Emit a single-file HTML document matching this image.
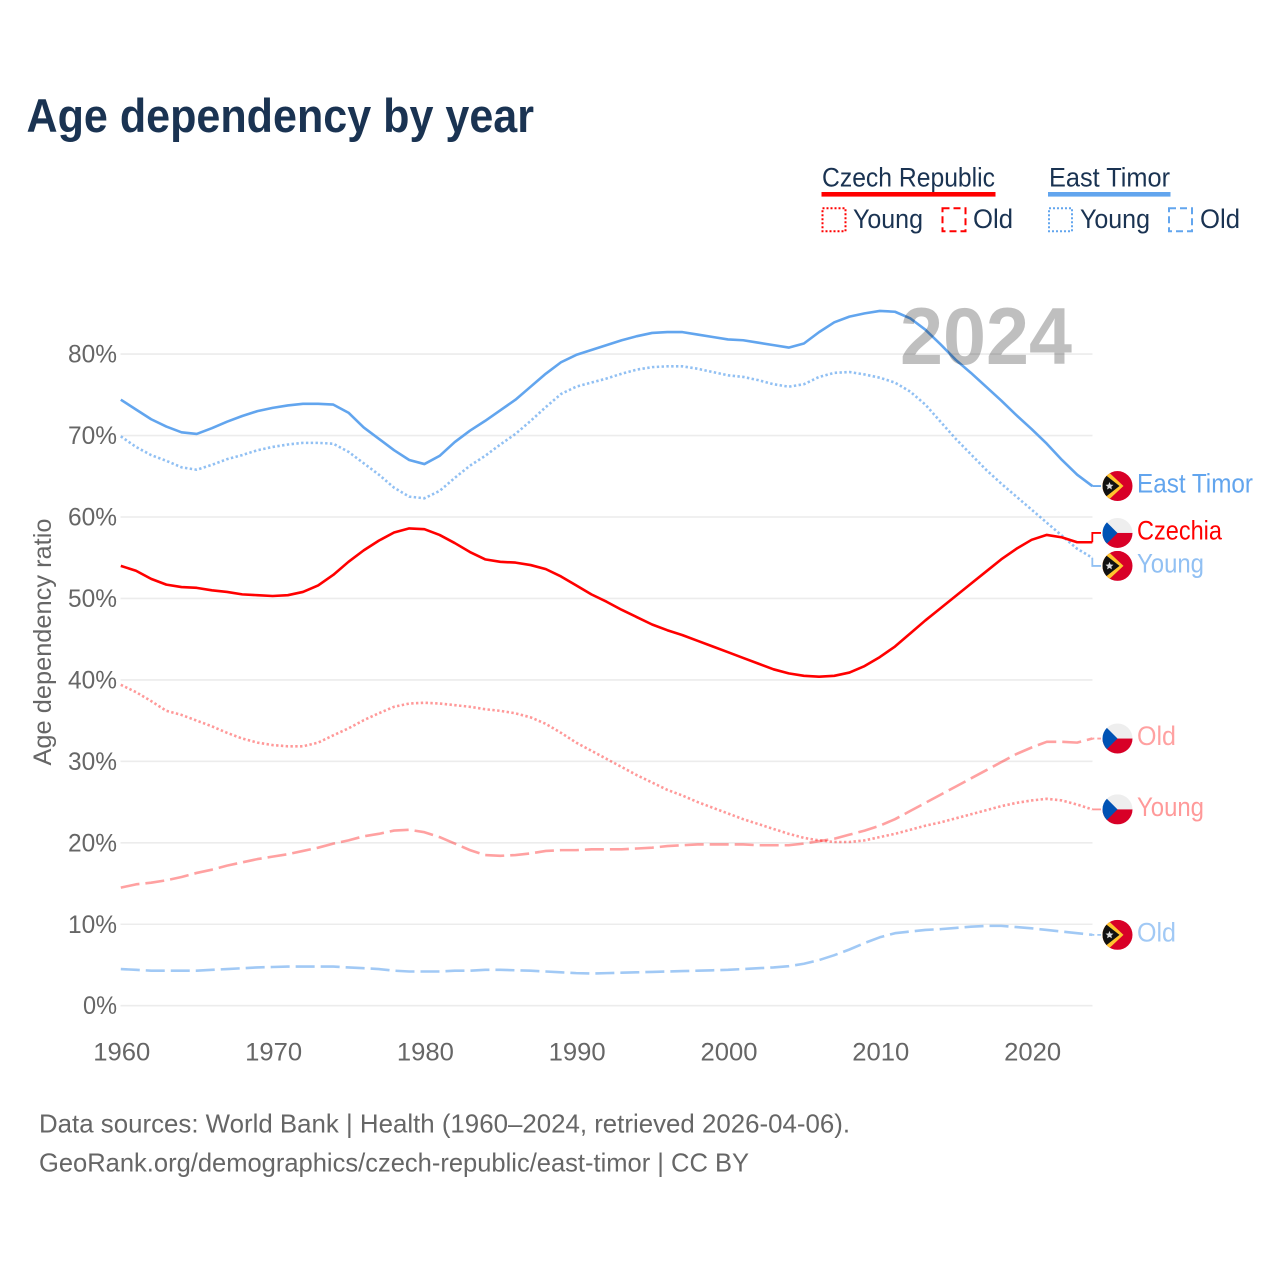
<!DOCTYPE html>
<html lang="en">
<head>
<meta charset="utf-8">
<title>Age dependency by year</title>
<style>
html,body{margin:0;padding:0;background:#fff;}
svg{display:block;font-family:"Liberation Sans",sans-serif;}
</style>
</head>
<body>
<svg id="chart" xmlns="http://www.w3.org/2000/svg" width="1280" height="1280" viewBox="0 0 1280 1280">
  <defs>
    <clipPath id="flag-clip"><circle cx="0" cy="0" r="15"/></clipPath>
    <g id="flag-cz" clip-path="url(#flag-clip)">
      <rect x="-15" y="-15" width="30" height="30" fill="#eeeeee"/>
      <rect x="-15" y="0" width="30" height="15" fill="#d80027"/>
      <polygon points="-15,-15 0,0 -15,15" fill="#0052b4"/>
    </g>
    <g id="flag-tl" clip-path="url(#flag-clip)">
      <rect x="-15" y="-15" width="30" height="30" fill="#d80027"/>
      <polygon points="-15,-17 -9,-14 6,0 -9,14 -15,17" fill="#ffc42e"/>
      <polygon points="-15,-15 -12,-11 2,0 -12,11 -15,15" fill="#111111"/>
      <polygon points="-8,-4 -6.9,-1.4 -4,-1.2 -6.2,0.7 -5.6,3.4 -8,2 -10.4,3.4 -9.8,0.7 -12,-1.2 -9.1,-1.4" fill="#dddddd"/>
    </g>
  </defs>

  <rect x="0" y="0" width="1280" height="1280" fill="#ffffff"/>

  <text x="26.5" y="132" font-size="47" font-weight="700" fill="#1a3352" textLength="507.5" lengthAdjust="spacingAndGlyphs">Age dependency by year</text>

  <g fill="#1a3352" font-size="26.5">
    <text x="822" y="186.5" textLength="173" lengthAdjust="spacingAndGlyphs">Czech Republic</text>
    <rect x="821.5" y="192" width="174" height="4.6" fill="#ff0000"/>
    <rect x="822.5" y="208.3" width="23" height="23" fill="none" stroke="#ff0000" stroke-width="2" stroke-dasharray="2 2"/>
    <text x="853" y="228.2" textLength="70" lengthAdjust="spacingAndGlyphs">Young</text>
    <rect x="942.5" y="208.3" width="23" height="23" fill="none" stroke="#ff0000" stroke-width="2" stroke-dasharray="7 4"/>
    <text x="973" y="228.2" textLength="40" lengthAdjust="spacingAndGlyphs">Old</text>

    <text x="1049" y="186.5" textLength="121" lengthAdjust="spacingAndGlyphs">East Timor</text>
    <rect x="1048" y="192" width="122.5" height="4.6" fill="#62a5ee"/>
    <rect x="1049" y="208.3" width="23" height="23" fill="none" stroke="#62a5ee" stroke-width="2" stroke-dasharray="2 2"/>
    <text x="1080" y="228.2" textLength="70" lengthAdjust="spacingAndGlyphs">Young</text>
    <rect x="1169" y="208.3" width="23" height="23" fill="none" stroke="#62a5ee" stroke-width="2" stroke-dasharray="7 4"/>
    <text x="1200" y="228.2" textLength="40" lengthAdjust="spacingAndGlyphs">Old</text>
  </g>

  <text transform="translate(51,642) rotate(-90)" text-anchor="middle" font-size="25" fill="#666666" textLength="247" lengthAdjust="spacingAndGlyphs">Age dependency ratio</text>

  <g id="grid"></g>
  <g id="xaxis"></g>
  <g id="yaxis"></g>
  <g id="series"></g>
  <g id="endlabels"></g>

  <text x="900" y="364" font-size="81" font-weight="700" fill="#000000" fill-opacity="0.25" textLength="172" lengthAdjust="spacingAndGlyphs">2024</text>

  <g fill="#666666" font-size="26">
    <text x="39" y="1132.5" textLength="811" lengthAdjust="spacingAndGlyphs">Data sources: World Bank | Health (1960–2024, retrieved 2026-04-06).</text>
    <text x="39" y="1171.5" textLength="710" lengthAdjust="spacingAndGlyphs">GeoRank.org/demographics/czech-republic/east-timor | CC BY</text>
  </g>
</svg>

<script>
const years = [1960,1961,1962,1963,1964,1965,1966,1967,1968,1969,1970,1971,1972,1973,1974,1975,1976,1977,1978,1979,1980,1981,1982,1983,1984,1985,1986,1987,1988,1989,1990,1991,1992,1993,1994,1995,1996,1997,1998,1999,2000,2001,2002,2003,2004,2005,2006,2007,2008,2009,2010,2011,2012,2013,2014,2015,2016,2017,2018,2019,2020,2021,2022,2023,2024];
const xTicks = [1960,1970,1980,1990,2000,2010,2020];
const yTicks = [0,10,20,30,40,50,60,70,80];
const czechTotal = [54.0,53.4,52.4,51.7,51.4,51.3,51.0,50.8,50.5,50.4,50.3,50.4,50.8,51.6,52.9,54.5,55.9,57.1,58.1,58.6,58.5,57.8,56.8,55.7,54.8,54.5,54.4,54.1,53.6,52.7,51.6,50.5,49.6,48.6,47.7,46.8,46.1,45.5,44.8,44.1,43.4,42.7,42.0,41.3,40.8,40.5,40.4,40.5,40.9,41.7,42.8,44.1,45.7,47.3,48.8,50.3,51.8,53.3,54.8,56.1,57.2,57.8,57.5,56.9,56.9];
const timorTotal = [74.4,73.2,72.0,71.1,70.4,70.2,70.9,71.7,72.4,73.0,73.4,73.7,73.9,73.9,73.8,72.8,71.0,69.6,68.2,67.0,66.5,67.5,69.2,70.6,71.8,73.1,74.4,76.0,77.6,79.0,79.9,80.5,81.1,81.7,82.2,82.6,82.7,82.7,82.4,82.1,81.8,81.7,81.4,81.1,80.8,81.3,82.7,83.9,84.6,85.0,85.3,85.2,84.4,83.0,81.2,79.3,77.7,76.0,74.3,72.5,70.8,69.0,67.0,65.2,63.8];
const timorYoung = [69.9,68.6,67.6,66.9,66.1,65.8,66.4,67.1,67.6,68.2,68.6,68.9,69.1,69.1,69.0,68.0,66.6,65.2,63.6,62.5,62.3,63.2,64.8,66.3,67.5,68.9,70.2,71.8,73.5,75.1,76.0,76.5,77.0,77.6,78.1,78.4,78.5,78.5,78.2,77.8,77.4,77.2,76.8,76.3,76.0,76.3,77.2,77.7,77.8,77.5,77.1,76.5,75.4,73.8,71.7,69.6,67.7,65.8,64.1,62.5,60.9,59.3,57.7,56.1,55.0];
const timorOld = [4.5,4.4,4.3,4.3,4.3,4.3,4.4,4.5,4.6,4.7,4.75,4.8,4.8,4.8,4.8,4.7,4.6,4.5,4.3,4.2,4.2,4.2,4.3,4.3,4.4,4.4,4.35,4.3,4.2,4.1,4.0,3.95,4.0,4.05,4.1,4.15,4.2,4.25,4.3,4.35,4.4,4.5,4.6,4.7,4.85,5.15,5.6,6.2,6.9,7.7,8.4,8.9,9.1,9.3,9.4,9.55,9.7,9.8,9.8,9.65,9.5,9.3,9.1,8.9,8.7];
const czechYoung = [39.4,38.5,37.4,36.2,35.7,35.0,34.3,33.5,32.8,32.3,32.0,31.85,31.85,32.3,33.2,34.05,35.05,35.9,36.7,37.1,37.2,37.1,36.9,36.7,36.4,36.2,35.9,35.4,34.6,33.5,32.3,31.3,30.3,29.3,28.3,27.4,26.5,25.8,25.0,24.3,23.6,22.9,22.3,21.7,21.1,20.6,20.3,20.1,20.1,20.3,20.7,21.1,21.6,22.1,22.5,23.0,23.5,24.0,24.5,24.9,25.2,25.4,25.2,24.7,24.1];
const czechOld = [14.5,14.9,15.1,15.4,15.8,16.3,16.7,17.2,17.6,18.0,18.3,18.6,19.0,19.4,19.9,20.3,20.8,21.1,21.5,21.6,21.3,20.7,19.9,19.1,18.5,18.4,18.5,18.7,19.0,19.1,19.1,19.2,19.2,19.2,19.3,19.4,19.6,19.7,19.8,19.8,19.8,19.8,19.7,19.7,19.7,19.9,20.2,20.5,21.0,21.5,22.1,22.9,23.9,24.9,25.9,26.9,27.9,28.9,29.9,30.9,31.7,32.4,32.4,32.3,32.8];

const SVGNS = 'http://www.w3.org/2000/svg';
function xScale(year){ return 120.8 + (year - 1960) * 15.18; }
function yScale(value){ return 1005.7 - value * 8.145; }
function mk(tag, attrs, parent){
  const el = document.createElementNS(SVGNS, tag);
  for (const k in attrs) el.setAttribute(k, attrs[k]);
  parent.appendChild(el);
  return el;
}

const gridG = document.getElementById('grid');
const xG = document.getElementById('xaxis');
const yG = document.getElementById('yaxis');
const seriesG = document.getElementById('series');
const labelsG = document.getElementById('endlabels');

yTicks.forEach(function(t){
  const line = mk('line', {x1:120.5, x2:1092.5, y1:yScale(t), y2:yScale(t), stroke:'#ececec', 'stroke-width':1.6}, gridG);
  
  
  const width = t === 0 ? 34 : 49;
  const label = mk('text', {x:117-width, y:yScale(t)+8.5, 'font-size':25, fill:'#666666', textLength:width, lengthAdjust:'spacingAndGlyphs'}, yG);
  label.textContent = t + '%';
  
  
});

xTicks.forEach(function(t){
  const label = mk('text', {x:xScale(t)+1, y:1060.7, 'text-anchor':'middle', 'font-size':25, fill:'#666666', textLength:57, lengthAdjust:'spacingAndGlyphs'}, xG);
  label.textContent = String(t);
  
  
});

function drawSeries(name, values, color, opacity, dash, width, labelText, labelWidth, flag, labelOffset){
  const d = values.map(function(v, i){
    return (i ? 'L' : 'M') + xScale(years[i]).toFixed(2) + ' ' + yScale(v).toFixed(2);
  }).join(' ');
  const path = mk('path', {d:d, fill:'none', stroke:color, 'stroke-opacity':opacity, 'stroke-width':width, 'stroke-linejoin':'round', 'stroke-dasharray':dash}, seriesG);
  
  

  const endX = xScale(years[years.length - 1]);
  const endY = yScale(values[values.length - 1]);
  const labelY = endY + labelOffset;
  const connector = mk('path', {d:'M' + endX + ' ' + endY + ' L' + endX + ' ' + labelY + ' L1101 ' + labelY, fill:'none', stroke:color, 'stroke-opacity':opacity, 'stroke-width':1.8, 'stroke-dasharray': dash === '19 6' ? '2 3 4 0' : 'none'}, seriesG);
  
  

  const flagUse = mk('use', {href:'#' + flag, x:1117.5, y:labelY}, labelsG);
  
  

  const label = mk('text', {x:1137, y:labelY+6.7, 'font-size':26.5, fill:color, 'fill-opacity':opacity, textLength:labelWidth, lengthAdjust:'spacingAndGlyphs'}, labelsG);
  label.textContent = labelText;
  
  
}

drawSeries('east-timor-old', timorOld, '#62a5ee', 0.6, '19 6', 2.6, 'Old', 39, 'flag-tl', 0);
drawSeries('east-timor-young', timorYoung, '#62a5ee', 0.7, '2.4 2.4', 2.6, 'Young', 67, 'flag-tl', 8.2);
drawSeries('east-timor-total', timorTotal, '#62a5ee', 1, 'none', 2.6, 'East Timor', 116, 'flag-tl', 0);
drawSeries('czechia-old', czechOld, '#ff0000', 0.37, '19 6', 2.6, 'Old', 39, 'flag-cz', 0);
drawSeries('czechia-young', czechYoung, '#ff0000', 0.4, '2.4 2.4', 2.6, 'Young', 67, 'flag-cz', 0);
drawSeries('czechia-total', czechTotal, '#ff0000', 1, 'none', 2.6, 'Czechia', 85, 'flag-cz', -9.3);
</script>
</body>
</html>
